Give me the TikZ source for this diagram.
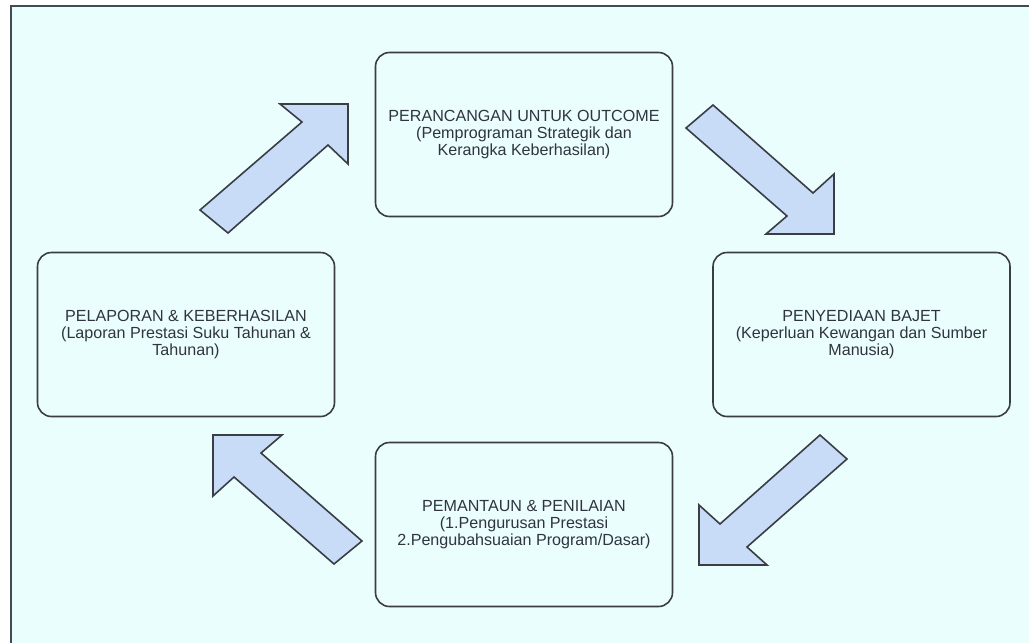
\documentclass[tikz,border=0pt]{standalone}
\usepackage{fontspec}
\setmainfont{Liberation Sans}
\definecolor{bgc}{HTML}{EBFEFE}
\definecolor{framec}{HTML}{434A58}
\definecolor{linec}{HTML}{3A3D44}
\definecolor{arrowc}{HTML}{C8DCF8}
\definecolor{txtc}{HTML}{30343F}
\tikzset{
  stagebox/.style={draw=linec, line width=1.6pt, rounded corners=14pt, fill=bgc,
    minimum width=297pt, minimum height=164pt, inner sep=0pt,
    align=center, text=txtc, font=\fontsize{16.1pt}{17pt}\selectfont},
  blockarrow/.style={draw=linec, line width=1.6pt, fill=arrowc, line join=miter}
}
\begin{document}
\begin{tikzpicture}[x=1pt,y=-1pt]
\useasboundingbox (0,0) rectangle (1029,643);
\clip (0,0) rectangle (1029,643);
\fill[white] (0,0) rectangle (1029,643);
\fill[bgc] (11,6) rectangle (1040,660);
\draw[framec, line width=2.4pt] (11,660) -- (11,6) -- (1040,6);

\node[stagebox] (top) at (524,134.5) {PERANCANGAN UNTUK OUTCOME\\(Pemprograman Strategik dan\\Kerangka Keberhasilan)};
\node[stagebox] (right) at (861.5,334.5) {PENYEDIAAN BAJET\\(Keperluan Kewangan dan Sumber\\Manusia)};
\node[stagebox] (bottom) at (524,524.5) {PEMANTAUN \& PENILAIAN\\(1.Pengurusan Prestasi\\2.Pengubahsuaian Program/Dasar)};
\node[stagebox] (left) at (186,334.5) {PELAPORAN \& KEBERHASILAN\\(Laporan Prestasi Suku Tahunan \&\\Tahunan)};

% arrow left -> top
\draw[blockarrow] (200,210) -- (302,122) -- (280,104) -- (348,104) -- (348,164) -- (328,145) -- (228,233) -- cycle;
% arrow top -> right
\draw[blockarrow] (686,128) -- (713,105) -- (813,193) -- (834,174) -- (834,234) -- (766,234) -- (787,216) -- cycle;
% arrow right -> bottom
\draw[blockarrow] (820,435) -- (847,459) -- (747,547) -- (767,565) -- (699,565) -- (699,505) -- (720,524) -- cycle;
% arrow bottom -> left
\draw[blockarrow] (362,541) -- (334,564) -- (234,477) -- (213,496) -- (213,435) -- (282,435) -- (261,453) -- cycle;
\end{tikzpicture}
\end{document}
